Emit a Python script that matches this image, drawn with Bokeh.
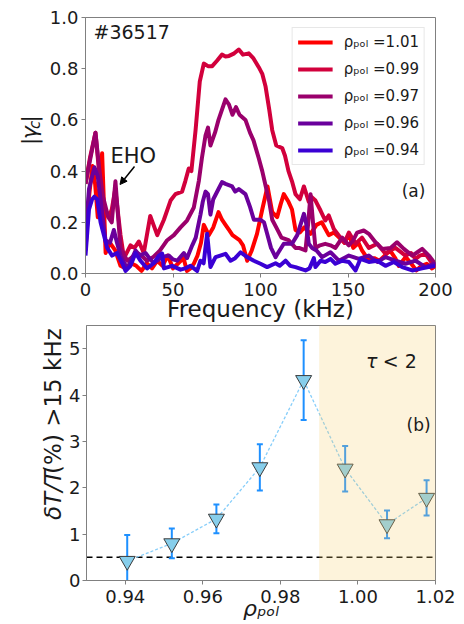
import numpy as np
from bokeh.plotting import figure
from bokeh.layouts import column, row
from bokeh.models import (Range1d, FixedTicker, PrintfTickFormatter, Label, Legend, LegendItem,
                          BoxAnnotation, Span, Arrow, NormalHead)
from bokeh.embed import file_html
from bokeh.resources import INLINE

# ---------------- panel (a): coherence spectra ----------------
f_101 = [0, 2, 4, 5.5, 7, 9.5, 11.5, 14, 17, 20,
         23, 26, 29, 32, 35, 38, 41, 44, 47, 50,
         53, 56, 58, 60, 62, 64, 66, 67.6, 70.5, 73,
         76, 78, 80, 82, 84, 86, 88, 90, 92.4, 95,
         98, 101, 104, 106.7, 109.5, 111.5, 113.3, 116, 118, 120,
         122.5, 125, 128.6, 132, 135, 139, 142, 145, 148, 150.5,
         153, 156, 158, 162, 165, 168, 171, 174, 177, 179,
         183, 186, 189, 192, 195, 198, 200]
g_101 = [0.09, 0.30, 0.42, 0.35, 0.22, 0.47, 0.08, 0.12, 0.09, 0.03,
         0.02, 0.04, 0.03, 0.01, 0.04, 0.02, 0.05, 0.03, 0.07, 0.02,
         0.04, 0.06, 0.01, 0.02, 0.04, 0.07, 0.12, 0.19, 0.15, 0.18,
         0.24, 0.21, 0.19, 0.17, 0.15, 0.14, 0.13, 0.11, 0.05, 0.09,
         0.155, 0.25, 0.34, 0.24, 0.22, 0.27, 0.31, 0.28, 0.25, 0.17,
         0.16, 0.18, 0.155, 0.19, 0.20, 0.15, 0.16, 0.14, 0.12, 0.155,
         0.10, 0.12, 0.09, 0.05, 0.06, 0.05, 0.07, 0.09, 0.06, 0.03,
         0.064, 0.04, 0.012, 0.03, 0.038, 0.02, 0.03]

f_099 = [0, 2.5, 5.7, 8, 10, 13.3, 15, 17, 20, 22,
         25.7, 28, 30.5, 33.3, 37, 41, 44.8, 48.6, 51.4, 55.2,
         57, 59, 60.5, 62.9, 65.3, 67.6, 70, 72.4, 75, 78,
         80, 82, 85, 87.6, 90, 93.3, 96, 99, 101, 102.9,
         105, 106.7, 109, 112.4, 114, 116, 118, 120, 122.5, 124.8,
         127.6, 129, 131.4, 134.3, 137, 139, 141.9, 145.7, 148, 150.5,
         154.3, 158, 161.9, 166.7, 171.4, 174, 177.1, 182.8, 186, 188.6,
         191, 194.3, 197, 200]
g_099 = [0.35, 0.45, 0.55, 0.38, 0.27, 0.22, 0.25, 0.33, 0.15, 0.06,
         0.11, 0.10, 0.125, 0.08, 0.225, 0.15, 0.21, 0.285, 0.31, 0.32,
         0.36, 0.41, 0.40, 0.56, 0.75, 0.82, 0.81, 0.81, 0.83, 0.855,
         0.848, 0.85, 0.86, 0.875, 0.855, 0.86, 0.84, 0.806, 0.78, 0.73,
         0.64, 0.56, 0.50, 0.49, 0.46, 0.40, 0.36, 0.31, 0.29, 0.34,
         0.28, 0.30, 0.285, 0.246, 0.207, 0.227, 0.174, 0.14, 0.12, 0.16,
         0.116, 0.14, 0.10, 0.116, 0.077, 0.09, 0.10, 0.07, 0.08, 0.057,
         0.07, 0.077, 0.05, 0.025]

f_097 = [0, 2.5, 5.7, 8, 10, 13, 15, 17.1, 20, 23.8,
         26, 29.5, 32, 35, 38.8, 42.6, 46.7, 50.5, 54.3, 58,
         61.9, 64.8, 66.5, 68.6, 70, 71.4, 74, 76, 78, 80,
         82, 84, 86, 88, 91.4, 94, 96, 99, 101, 103,
         105, 106.7, 109, 112, 116, 120, 122, 125.7, 127.3, 128.6,
         130, 131.4, 134, 137, 140, 142.8, 146.7, 150.5, 153, 155.2,
         159, 161.9, 165.7, 169.5, 174.3, 178, 181.9, 186.7, 189, 192.4,
         196.2, 199, 200]
g_097 = [0.35, 0.44, 0.55, 0.40, 0.30, 0.22, 0.20, 0.36, 0.10, 0.05,
         0.06, 0.08, 0.07, 0.05, 0.065, 0.09, 0.13, 0.15, 0.18, 0.207,
         0.258, 0.363, 0.45, 0.54, 0.57, 0.50, 0.55, 0.60, 0.64, 0.68,
         0.66, 0.62, 0.65, 0.62, 0.60, 0.55, 0.52, 0.45, 0.40, 0.34,
         0.28, 0.21, 0.18, 0.14, 0.13, 0.10, 0.10, 0.09, 0.20, 0.31,
         0.20, 0.10, 0.11, 0.116, 0.11, 0.10, 0.14, 0.11, 0.13, 0.16,
         0.168, 0.155, 0.122, 0.096, 0.10, 0.122, 0.096, 0.07, 0.08, 0.096,
         0.07, 0.045, 0.03]

f_096 = [0, 2, 5.1, 7, 8.6, 11.4, 14, 16.2, 18, 20,
         23.8, 26, 28.6, 31, 34.3, 36.5, 39, 41, 43.8, 47.6,
         50, 52.4, 56.2, 58, 61, 63, 65.7, 67, 68.6, 70,
         71.4, 73, 76, 78, 80, 83.8, 85.5, 87.6, 89.5, 91.4,
         94, 96.2, 100, 102, 103.8, 106, 108.6, 110, 113.3, 118,
         121, 124.8, 126, 127.6, 129.5, 132, 135.2, 140, 144.8, 150.5,
         156.2, 161.9, 166.7, 171.4, 177.1, 182.8, 188.6, 194.3, 199, 200]
g_096 = [0.15, 0.33, 0.415, 0.38, 0.29, 0.13, 0.12, 0.17, 0.12, 0.07,
         0.02, 0.05, 0.09, 0.07, 0.08, 0.06, 0.04, 0.05, 0.065, 0.07,
         0.055, 0.05, 0.08, 0.06, 0.11, 0.14, 0.23, 0.28, 0.32, 0.31,
         0.23, 0.29, 0.33, 0.357, 0.35, 0.34, 0.32, 0.33, 0.32, 0.31,
         0.26, 0.21, 0.21, 0.20, 0.155, 0.10, 0.064, 0.08, 0.116, 0.116,
         0.15, 0.233, 0.20, 0.116, 0.10, 0.09, 0.064, 0.083, 0.05, 0.07,
         0.057, 0.07, 0.045, 0.064, 0.05, 0.038, 0.05, 0.025, 0.038, 0.035]

f_094 = [0, 2, 3.8, 5, 6.7, 8.6, 10.5, 12.4, 15.2, 18,
         21, 22.9, 25.7, 28.6, 31.4, 35.2, 39, 41.9, 43.8, 44.8,
         49.5, 54.3, 57, 60, 63.8, 65.7, 67.5, 69.5, 71.4, 74.3,
         77, 80, 82.9, 85.5, 88.6, 92.4, 96.2, 100, 103.8, 108.6,
         111, 114.3, 117, 120, 125.7, 128, 130.5, 131.4, 134.3, 137,
         140, 142.8, 146.7, 150.5, 154.3, 157.1, 161.9, 166.7, 171.4, 176.2,
         181, 186.7, 192.4, 196, 200]
g_094 = [0.07, 0.25, 0.29, 0.30, 0.29, 0.20, 0.15, 0.10, 0.07, 0.08,
         0.04, 0.01, 0.03, 0.08, 0.05, 0.02, 0.04, 0.07, 0.078, 0.02,
         0.03, 0.015, 0.02, 0.03, 0.01, 0.05, 0.04, 0.155, 0.025, 0.064,
         0.07, 0.077, 0.05, 0.06, 0.083, 0.064, 0.05, 0.038, 0.025, 0.04,
         0.03, 0.05, 0.03, 0.025, 0.012, 0.02, 0.06, 0.025, 0.05, 0.045,
         0.057, 0.038, 0.05, 0.045, 0.012, 0.057, 0.045, 0.05, 0.03, 0.045,
         0.025, 0.012, 0.02, 0.025, 0.03]

rho_labels = ["1.01", "0.99", "0.97", "0.96", "0.94"]
freqs = [f_101, f_099, f_097, f_096, f_094]
cohs = [g_101, g_099, g_097, g_096, g_094]
line_colors = ["#ff0000", "#d2003c", "#9a006c", "#6a009c", "#3a00d4"]

freq_ticks = [0, 50, 100, 150, 200]
coh_ticks = [0.0, 0.2, 0.4, 0.6, 0.8, 1.0]

# ---------------- panel (b): fluctuation level ----------------
rho_pol = [0.9405, 0.952, 0.9635, 0.9747, 0.986, 0.9967, 1.0075, 1.0177]
dT_T = [0.42, 0.80, 1.33, 2.44, 4.32, 2.41, 1.21, 1.78]
dT_T_err = [0.56, 0.32, 0.31, 0.50, 0.86, 0.49, 0.30, 0.38]
noise_level = 0.5
tau_region_start = 0.99
rho_ticks = [0.94, 0.96, 0.98, 1.00, 1.02]
dT_ticks = [0, 1, 2, 3, 4, 5]

FONT = "DejaVu Sans"
GREY = "#808080"
TXT = "#1a1a1a"
W, H = 464, 624
ROW1 = 325          # page y where panel (b) row starts

# frame geometry (page pixels)
A_L, A_R, A_T, A_B = 85, 435, 17, 273
B_L, B_R, B_T, B_B = 84, 435, 325, 580
S1_W = 45
S2_W = 66


def top_xy(px, py):
    return (px - A_L) * 200.0 / (A_R - A_L), (A_B - py) * 1.0 / (A_B - A_T)


def bot_xy(px, py):
    return 0.93 + (px - B_L) * 0.09 / (B_R - B_L), (B_B - py) * 5.5 / (B_B - B_T)


def style(p, standoff):
    p.grid.visible = False
    p.outline_line_color = GREY
    p.outline_line_width = 1
    for ax in p.axis:
        ax.axis_line_color = GREY
        ax.major_tick_line_color = GREY
        ax.minor_tick_line_color = None
        ax.major_tick_out = 4
        ax.major_tick_in = 0
        ax.major_label_text_font = FONT
        ax.major_label_text_font_size = "18px"
        ax.major_label_text_color = TXT
        ax.major_label_standoff = standoff


def lab(p, xy, text, size, style_="normal", angle=0.0, align="left", baseline="middle",
        level="overlay"):
    p.add_layout(Label(x=xy[0], y=xy[1], text=text, text_font=FONT, text_font_size=size,
                       text_font_style=style_, angle=angle, text_align=align,
                       text_baseline=baseline, text_color=TXT, level=level))


def strip(width, y0, y1):
    # a bare figure whose coordinates are page pixels, used to hold composed axis titles
    s = figure(width=width, height=y1 - y0, x_range=Range1d(0, width), y_range=Range1d(y1, y0),
               x_axis_type=None, y_axis_type=None, min_border=0, outline_line_color=None,
               output_backend="svg", toolbar_location=None)
    s.grid.visible = False
    return s


# ---------------- figure (a) ----------------
p1 = figure(width=W - S1_W, height=ROW1, x_range=Range1d(0, 200), y_range=Range1d(0, 1.0),
            output_backend="svg", toolbar_location=None,
            min_border_left=A_L - S1_W, min_border_right=W - A_R,
            min_border_top=A_T, min_border_bottom=ROW1 - A_B)
style(p1, 3)
p1.xaxis.major_label_standoff = 5
p1.xaxis.ticker = FixedTicker(ticks=freq_ticks)
p1.yaxis.ticker = FixedTicker(ticks=coh_ticks)
p1.yaxis.formatter = PrintfTickFormatter(format="%.1f")
p1.xaxis.axis_label = "Frequency (kHz)"
p1.xaxis.axis_label_text_font = FONT
p1.xaxis.axis_label_text_font_size = "23px"
p1.xaxis.axis_label_text_font_style = "normal"
p1.xaxis.axis_label_text_color = TXT
p1.xaxis.axis_label_standoff = -3

renderers = []
for f, g, c in zip(freqs, cohs, line_colors):
    r = p1.line(f, g, line_color=c, line_width=4, line_join="round")
    renderers.append(r)

legend = Legend(items=[LegendItem(label="ρₚₒₗ =" + s, renderers=[r]) for s, r in zip(rho_labels, renderers)],
                location="top_right", margin=10, padding=5, spacing=9,
                glyph_width=35, glyph_height=18, label_height=18,
                label_standoff=11, label_text_font=FONT, label_text_font_size="15px",
                label_text_color=TXT, border_line_color="#d0d0d0", border_line_width=1,
                background_fill_color="white", background_fill_alpha=0.85)
p1.add_layout(legend)

lab(p1, top_xy(93, 31), "#36517", "19px")
lab(p1, top_xy(110, 155), "EHO", "21px")
lab(p1, top_xy(413, 190), "(a)", "17px", align="center")
sx, sy = top_xy(134, 166)
ex, ey = top_xy(119.5, 184)
p1.add_layout(Arrow(end=NormalHead(size=7, fill_color="black", line_color="black"),
                    x_start=sx, y_start=sy, x_end=ex, y_end=ey,
                    line_color="black", line_width=1.5))

# y title of (a): |γc| composed in a side strip
s1 = strip(S1_W, 0, ROW1)
for (px, py, t, sz, st) in [(29, 162, "|", "22px", "normal"), (29, 154.6, "γ", "22px", "italic"),
                            (34, 141.6, "c", "15px", "italic"), (29, 133.3, "|", "22px", "normal")]:
    lab(s1, (px, py), t, sz, st, angle=np.pi / 2)

# ---------------- figure (b) ----------------
p2 = figure(width=W - S2_W, height=H - ROW1, x_range=Range1d(0.93, 1.02), y_range=Range1d(0, 5.5),
            output_backend="svg", toolbar_location=None,
            min_border_left=B_L - S2_W, min_border_right=W - B_R,
            min_border_top=B_T - ROW1, min_border_bottom=H - B_B)
style(p2, 2)
p2.xaxis.major_label_standoff = 5
p2.xaxis.ticker = FixedTicker(ticks=rho_ticks)
p2.xaxis.formatter = PrintfTickFormatter(format="%.2f")
p2.yaxis.ticker = FixedTicker(ticks=dT_ticks)
p2.yaxis.formatter = PrintfTickFormatter(format="%d")
p2.xaxis.axis_label = "ρₚₒₗ"
p2.xaxis.axis_label_text_font = FONT
p2.xaxis.axis_label_text_font_size = "22px"
p2.xaxis.axis_label_text_font_style = "italic"
p2.xaxis.axis_label_text_color = TXT
p2.xaxis.axis_label_standoff = -10

val = np.array(dT_T)
err = np.array(dT_T_err)
lower = val - err
upper = val + err
p2.add_layout(Span(location=noise_level, dimension="width", line_color="black",
                   line_dash="6 4", line_width=1.5, level="underlay"))
p2.segment(x0=rho_pol, y0=lower, x1=rho_pol, y1=upper, line_color="#1e90ff", line_width=2)
p2.scatter(x=rho_pol + rho_pol, y=list(lower) + list(upper), marker="dash", size=6,
           line_color="#1e90ff", line_width=2)
p2.line(rho_pol, dT_T, line_color="#87cefa", line_dash="3 2", line_width=1.3)
p2.scatter(rho_pol, dT_T, marker="inverted_triangle", size=16, fill_color="#87ceeb",
           line_color="#3c3c3c", line_width=1)
p2.add_layout(BoxAnnotation(left=tau_region_start, fill_color="#f8d070", fill_alpha=0.25,
                            line_color=None))

lab(p2, bot_xy(365, 360), "τ", "19px", "italic")
lab(p2, bot_xy(382, 360), "< 2", "19px")
lab(p2, bot_xy(418, 424), "(b)", "17px", align="center")

# y title of (b) composed in a side strip
s2 = strip(S2_W, ROW1, H)
lab(s2, (52, 553), "δT/T", "23px", "italic", angle=np.pi / 2)
lab(s2, (52, 499), "(%) >15 kHz", "23px", angle=np.pi / 2)

layout = column(row(s1, p1, spacing=0), row(s2, p2, spacing=0), spacing=0)
open("out.html", "w").write(file_html(layout, INLINE))
